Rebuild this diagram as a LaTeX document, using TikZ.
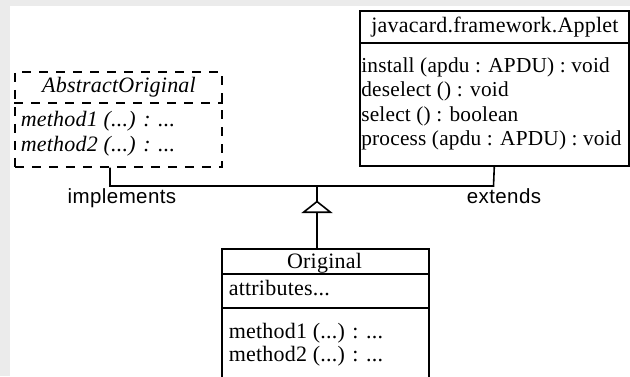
\documentclass[tikz,border=0pt]{standalone}
\usepackage{fontspec}
\setmainfont{Liberation Serif}[LetterSpace=1]
\newfontfamily\labelfont{Liberation Sans}[LetterSpace=2]
\usetikzlibrary{arrows.meta}
\definecolor{framegray}{HTML}{EBEBEB}
\begin{document}
\begin{tikzpicture}[x=1pt,y=-1pt,line width=1.6pt,
  box/.style={draw,line width=1.6pt,inner sep=0pt,anchor=north west},
  member/.style={anchor=base west,inner sep=0pt,font=\fontsize{22}{24}\selectfont},
  apimember/.style={member,font=\fontsize{21.3}{24}\selectfont},
  classname/.style={anchor=base,inner sep=0pt,font=\fontsize{22}{24}\selectfont},
  rel/.style={anchor=base,inner sep=0pt,font=\labelfont\fontsize{20.5}{22}\selectfont}]
  % canvas with grey margin
  \fill[framegray] (0,0) rectangle (630,376);
  \fill[white] (10,6) rectangle (630,376);
  \useasboundingbox (0,0) rectangle (630,376);
  \clip (0,0) rectangle (630,376);

  % class boxes
  \node[box,minimum width=269pt,minimum height=155pt] (applet) at (359,10) {};
  \draw ([yshift=-33pt]applet.north west) -- ([yshift=-33pt]applet.north east);
  \node[box,dashed,dash pattern=on 9pt off 8pt,minimum width=207pt,minimum height=95pt] (abs) at (14,71) {};
  \draw[dash pattern=on 9pt off 8pt] ([yshift=-32pt]abs.north west) -- ([yshift=-32pt]abs.north east);
  \node[box,minimum width=207pt,minimum height=160pt] (orig) at (221,248) {};
  \draw ([yshift=-26pt]orig.north west) -- ([yshift=-26pt]orig.north east);
  \draw ([yshift=-60pt]orig.north west) -- ([yshift=-60pt]orig.north east);

  % javacard.framework.Applet
  \node[classname] (appletname) at (495,32) {javacard.framework.Applet};
  \node[apimember] (install) at (360.5,72) {install (apdu : APDU) : void};
  \node[apimember] (deselect) at (360.5,96.5) {deselect () : void};
  \node[apimember] (select) at (360.5,121) {select () : boolean};
  \node[apimember] (process) at (360.5,145.5) {process (apdu : APDU) : void};

  % AbstractOriginal
  \node[classname,font=\itshape\fontsize{22}{24}\selectfont] (absname) at (119,92) {AbstractOriginal};
  \node[member,font=\itshape\fontsize{22}{24}\selectfont] (am1) at (20,126) {method1 (...) : ...};
  \node[member,font=\itshape\fontsize{22}{24}\selectfont] (am2) at (20,151.5) {method2 (...) : ...};

  % Original
  \node[classname] (origname) at (324.5,268) {Original};
  \node[member] (attrs) at (228,295) {attributes...};
  \node[member] (om1) at (228,338) {method1 (...) : ...};
  \node[member] (om2) at (228,361.5) {method2 (...) : ...};

  % generalisation connectors
  \coordinate (jl) at (110,186);
  \coordinate (jr) at (493.5,186);
  \coordinate (apex) at (317,200.5);
  \draw (abs.south -| jl) -- (jl) -- (jr) -- (applet.south);
  \draw (apex |- jl) -- (apex);
  \draw[-{Triangle[open,length=12.5pt,width=31pt,line width=1.6pt]}] (apex |- orig.north) -- (apex);

  \node[rel] (impl) at (122,203) {implements};
  \node[rel] (ext) at (504,203) {extends};
\end{tikzpicture}
\end{document}
